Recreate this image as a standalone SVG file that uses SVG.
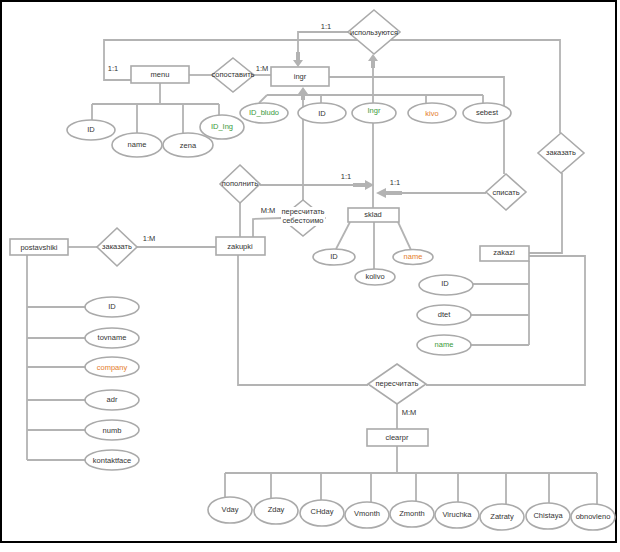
<svg xmlns="http://www.w3.org/2000/svg" width="620" height="552" viewBox="0 0 620 552">
<style>
text{font-family:"Liberation Sans",Arial,sans-serif;font-size:7.5px;fill:#333;text-anchor:middle;dominant-baseline:middle}
.s{fill:#fff;stroke:#aaa;stroke-width:1.6}
.c{fill:none;stroke:#b3b3b3;stroke-width:1.8}
.a{fill:#b3b3b3;stroke:none}
.g{fill:#3a9a3a}
.o{fill:#e47c2c}
.l{text-anchor:start}
</style>
<rect x="0" y="0" width="620" height="552" fill="#fff"/>
<rect x="1" y="1" width="615" height="541" fill="#fff" stroke="#000" stroke-width="2"/>
<g id="connectors">
<polyline class="c" points="131,80 104,80 104,40 560,40 560,133"/>
<polyline class="c" points="298,60 298,32 348,32"/>
<line class="c" x1="373" y1="103" x2="373" y2="62"/>
<line class="c" x1="373" y1="123" x2="373" y2="208"/>
<line class="c" x1="189" y1="75" x2="212" y2="75"/>
<line class="c" x1="254" y1="75" x2="271" y2="75"/>
<polyline class="c" points="329,77 504,77 504,174"/>
<line class="c" x1="267" y1="95" x2="483" y2="95"/>
<line class="c" x1="267" y1="95" x2="259" y2="103"/>
<line class="c" x1="321" y1="95" x2="321" y2="103"/>
<line class="c" x1="426" y1="95" x2="426" y2="103"/>
<line class="c" x1="483" y1="95" x2="483" y2="103"/>
<line class="c" x1="303" y1="94" x2="303" y2="200"/>
<line class="c" x1="160" y1="83" x2="160" y2="104"/>
<line class="c" x1="92" y1="104" x2="219" y2="104"/>
<line class="c" x1="92" y1="104" x2="92" y2="120"/>
<line class="c" x1="137" y1="104" x2="137" y2="133"/>
<line class="c" x1="183" y1="104" x2="183" y2="133"/>
<line class="c" x1="219" y1="104" x2="219" y2="115"/>
<line class="c" x1="260" y1="185" x2="366" y2="185"/>
<line class="c" x1="486" y1="193" x2="386" y2="193"/>
<line class="c" x1="240" y1="203" x2="240" y2="237"/>
<polyline class="c" points="253,237 253,219 283,218"/>
<line class="c" x1="68" y1="247" x2="97" y2="247"/>
<line class="c" x1="137" y1="247" x2="216" y2="247"/>
<line class="c" x1="27" y1="255" x2="27" y2="460"/>
<line class="c" x1="27" y1="307" x2="85" y2="307"/>
<line class="c" x1="27" y1="338" x2="85" y2="338"/>
<line class="c" x1="27" y1="367" x2="85" y2="367"/>
<line class="c" x1="27" y1="400" x2="85" y2="400"/>
<line class="c" x1="27" y1="430" x2="85" y2="430"/>
<line class="c" x1="27" y1="460" x2="85" y2="460"/>
<line class="c" x1="350" y1="222" x2="336" y2="249"/>
<line class="c" x1="374" y1="222" x2="374" y2="270"/>
<line class="c" x1="398" y1="222" x2="411" y2="250"/>
<polyline class="c" points="529,253 562,253 562,173"/>
<polyline class="c" points="529,256 585,256 585,385 426,385"/>
<line class="c" x1="529" y1="261" x2="529" y2="345"/>
<line class="c" x1="529" y1="284" x2="473" y2="284"/>
<line class="c" x1="529" y1="315" x2="471" y2="315"/>
<line class="c" x1="529" y1="345" x2="471" y2="345"/>
<polyline class="c" points="238,255 238,385 368,385"/>
<line class="c" x1="397" y1="404" x2="397" y2="429"/>
<line class="c" x1="397" y1="446" x2="397" y2="473"/>
<line class="c" x1="225" y1="473" x2="597" y2="473"/>
<line class="c" x1="225" y1="473" x2="225" y2="497"/>
<line class="c" x1="271" y1="473" x2="271" y2="498"/>
<line class="c" x1="321" y1="473" x2="321" y2="500"/>
<line class="c" x1="371" y1="473" x2="371" y2="502"/>
<line class="c" x1="416" y1="473" x2="416" y2="501"/>
<line class="c" x1="458" y1="473" x2="458" y2="502"/>
<line class="c" x1="506" y1="473" x2="506" y2="504"/>
<line class="c" x1="549" y1="473" x2="549" y2="503"/>
<line class="c" x1="597" y1="473" x2="597" y2="504"/>
<polygon class="a" points="296,52 300,52 300,60 303,60 298,67 293,60 296,60"/>
<polygon class="a" points="371,68 375,68 375,61 378,61 373,54 368,61 371,61"/>
<polygon class="a" points="301,100 305,100 305,94 308,94 303,87 298,94 301,94"/>
<polygon class="a" points="353,183 365,183 365,180 374,185 365,190 365,187 353,187"/>
<polygon class="a" points="402,191 386,191 386,188 376,193 386,198 386,195 402,195"/>
</g>
<g id="labels">
<text x="113" y="69">1:1</text>
<text x="262" y="69">1:M</text>
<text x="326" y="27">1:1</text>
<text x="346" y="177">1:1</text>
<text x="395" y="183">1:1</text>
<text x="268" y="211">M:M</text>
<text x="149" y="239">1:M</text>
<text x="409" y="413">M:M</text>
</g>
<g id="menu"><rect class="s" x="131" y="66" width="58" height="17"/><text x="160" y="75">menu</text></g>
<g id="ingr"><rect class="s" x="271" y="67" width="58" height="19"/><text x="300" y="77">ingr</text></g>
<g id="sklad"><rect class="s" x="348" y="208" width="51" height="14"/><text x="373" y="215">sklad</text></g>
<g id="zakupki"><rect class="s" x="216" y="237" width="49" height="18"/><text x="240" y="247">zakupki</text></g>
<g id="postavshiki"><rect class="s" x="10" y="239" width="58" height="16"/><text x="39" y="248">postavshiki</text></g>
<g id="zakazi"><rect class="s" x="480" y="246" width="49" height="15"/><text x="504" y="253">zakazi</text></g>
<g id="clearpr"><rect class="s" x="367" y="429" width="61" height="17"/><text x="397" y="438">clearpr</text></g>
<g id="rel-ispolzuyutsya"><polygon class="s" points="374,10 400,32 374,54 348,32"/><text x="374" y="33">используются</text></g>
<g id="rel-sopostavit"><polygon class="s" points="233,58 254,75 233,92 212,75"/><text x="233" y="75">сопоставить</text></g>
<g id="rel-zakazat-top"><polygon class="s" points="561,133 584,153 561,173 538,153"/><text x="561" y="153">заказать</text></g>
<g id="rel-popolnit"><polygon class="s" points="240,165 260,184 240,203 220,184"/><text x="240" y="184">пополнить</text></g>
<g id="rel-spisat"><polygon class="s" points="506,174 526,192 506,210 486,192"/><text x="506" y="193">списать</text></g>
<g id="rel-pereschitat-sebest"><polygon class="s" points="303,200 325,218 303,236 281,218"/><rect x="281" y="207" width="44" height="19" fill="#fff"/><text x="303" y="212">пересчитать</text><text x="303" y="221">себестоимо</text></g>
<g id="rel-zakazat-left"><polygon class="s" points="117,228 137,247 117,266 97,247"/><text x="117" y="247">заказать</text></g>
<g id="rel-pereschitat"><polygon class="s" points="397,364 426,384 397,404 368,384"/><text x="397" y="384">пересчитать</text></g>
<g id="attr-menu-ID"><ellipse class="s" cx="91" cy="130" rx="24" ry="10"/><text x="91" y="130">ID</text></g>
<g id="attr-menu-name"><ellipse class="s" cx="137" cy="145" rx="25" ry="12"/><text x="137" y="145">name</text></g>
<g id="attr-menu-zena"><ellipse class="s" cx="188" cy="145" rx="25" ry="12"/><text x="188" y="146">zena</text></g>
<g id="attr-menu-IDIng"><ellipse class="s" cx="222" cy="127" rx="22" ry="12"/><text class="g" x="222" y="127">ID_Ing</text></g>
<g id="attr-ingr-IDbludo"><ellipse class="s" cx="264" cy="113" rx="24" ry="10"/><text class="g" x="264" y="113">ID_bludo</text></g>
<g id="attr-ingr-ID"><ellipse class="s" cx="322" cy="113" rx="24" ry="10"/><text x="322" y="114">ID</text></g>
<g id="attr-ingr-Ingr"><ellipse class="s" cx="374" cy="113" rx="22" ry="10"/><text class="g" x="374" y="111">Ingr</text></g>
<g id="attr-ingr-kivo"><ellipse class="s" cx="432" cy="113" rx="24" ry="10"/><text class="o" x="432" y="114">kivo</text></g>
<g id="attr-ingr-sebest"><ellipse class="s" cx="487" cy="113" rx="24" ry="10"/><text x="487" y="113">sebest</text></g>
<g id="attr-sklad-ID"><ellipse class="s" cx="334" cy="257" rx="21" ry="8"/><text x="334" y="257">ID</text></g>
<g id="attr-sklad-kolivo"><ellipse class="s" cx="375" cy="277" rx="20" ry="8"/><text x="375" y="277">kolivo</text></g>
<g id="attr-sklad-name"><ellipse class="s" cx="413" cy="257" rx="20" ry="7.5"/><text class="o" x="413" y="257">name</text></g>
<g id="attr-zakazi-ID"><ellipse class="s" cx="446" cy="285" rx="27" ry="10"/><text x="445" y="284">ID</text></g>
<g id="attr-zakazi-dtet"><ellipse class="s" cx="444" cy="315" rx="27" ry="10"/><text x="444" y="315">dtet</text></g>
<g id="attr-zakazi-name"><ellipse class="s" cx="444" cy="345" rx="27" ry="10"/><text class="g" x="444" y="345">name</text></g>
<g id="attr-post-ID"><ellipse class="s" cx="112" cy="307" rx="27" ry="10"/><text x="112" y="307">ID</text></g>
<g id="attr-post-tovname"><ellipse class="s" cx="112" cy="338" rx="27" ry="10"/><text x="112" y="338">tovname</text></g>
<g id="attr-post-company"><ellipse class="s" cx="112" cy="367" rx="27" ry="10"/><text class="o" x="112" y="368">company</text></g>
<g id="attr-post-adr"><ellipse class="s" cx="112" cy="400" rx="27" ry="10"/><text x="112" y="400">adr</text></g>
<g id="attr-post-numb"><ellipse class="s" cx="112" cy="430" rx="27" ry="10"/><text x="112" y="431">numb</text></g>
<g id="attr-post-kontaktface"><ellipse class="s" cx="112" cy="460" rx="27" ry="10"/><text x="112" y="461">kontaktface</text></g>
<g id="attr-Vday"><ellipse class="s" cx="230" cy="510" rx="22" ry="13"/><text x="230" y="510">Vday</text></g>
<g id="attr-Zday"><ellipse class="s" cx="276" cy="511" rx="22" ry="13"/><text x="276" y="510">Zday</text></g>
<g id="attr-CHday"><ellipse class="s" cx="322" cy="513" rx="22" ry="13"/><text x="322" y="512">CHday</text></g>
<g id="attr-Vmonth"><ellipse class="s" cx="367" cy="515" rx="22" ry="13"/><text x="367" y="514">Vmonth</text></g>
<g id="attr-Zmonth"><ellipse class="s" cx="412" cy="514" rx="22" ry="13"/><text x="412" y="514">Zmonth</text></g>
<g id="attr-Viruchka"><ellipse class="s" cx="457" cy="515" rx="22" ry="13"/><text x="457" y="515">Viruchka</text></g>
<g id="attr-Zatraty"><ellipse class="s" cx="502" cy="517" rx="22" ry="13"/><text x="502" y="517">Zatraty</text></g>
<g id="attr-Chistaya"><ellipse class="s" cx="548" cy="516" rx="22" ry="13"/><text x="548" y="516">Chistaya</text></g>
<g id="attr-obnovleno"><ellipse class="s" cx="593" cy="517" rx="22" ry="13"/><text x="593" y="517">obnovleno</text></g>
</svg>
